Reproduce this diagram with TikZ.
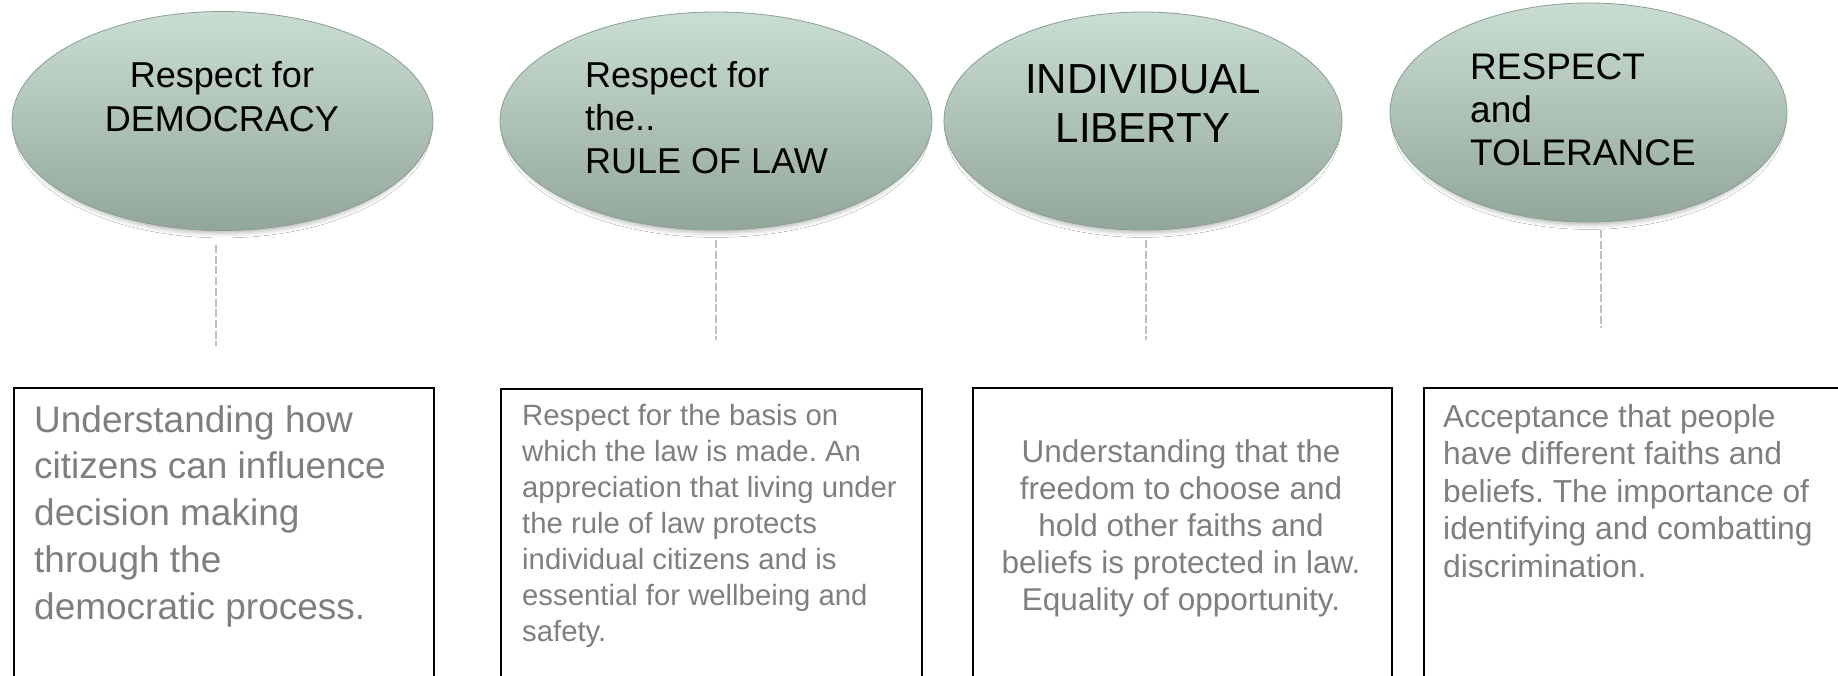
\documentclass[tikz,border=0pt]{standalone}
\usepackage{fontspec}
\setmainfont{Liberation Sans}
\frenchspacing
\usetikzlibrary{shapes.geometric,shadows.blur}
\definecolor{ctop}{HTML}{CADDD3}
\definecolor{cbot}{HTML}{92A799}
\definecolor{cedge}{HTML}{8A9E91}
\definecolor{dashgray}{HTML}{BFBFBF}
\definecolor{txtgray}{HTML}{7F7F7F}
\tikzset{
  bubble/.style={ellipse, draw=cedge, line width=0.8pt, top color=ctop, bottom color=cbot, inner sep=0pt,
    blur shadow={shadow xshift=0pt, shadow yshift=-6pt, shadow scale=0.97, shadow blur radius=5pt, shadow opacity=30}},
  infobox/.style={rectangle, draw=black, line width=2pt, anchor=north west, inner sep=0pt},
  dashline/.style={draw=dashgray, line width=1.4pt, dash pattern=on 8pt off 2.7pt},
  title/.style={inner sep=0pt, text=black},
  body/.style={inner sep=0pt, text=txtgray},
}
\begin{document}
\begin{tikzpicture}[x=1pt,y=-1pt]
\useasboundingbox (0,0) rectangle (1838,676);
\clip (0,0) rectangle (1838,676);
\fill[white] (0,0) rectangle (1838,676);

% ellipses
\node[bubble, minimum width=421pt, minimum height=219pt] (e1) at (222.5,121) {};
\node[bubble, minimum width=432pt, minimum height=218pt] (e2) at (716,121) {};
\node[bubble, minimum width=398pt, minimum height=218pt] (e3) at (1143,121) {};
\node[bubble, minimum width=397pt, minimum height=219pt] (e4) at (1588.5,112.5) {};

% ellipse titles (base anchor = baseline of last line)
\node[title, anchor=base, align=center, font=\fontsize{36}{44}\selectfont] (t1) at (222,132) {Respect for\\DEMOCRACY};
\node[title, anchor=base west, align=left, font=\fontsize{36}{43}\selectfont] (t2) at (585,174) {Respect for\\the..\\RULE OF LAW};
\node[title, anchor=base, align=center, font=\fontsize{42}{49}\selectfont] (t3) at (1143,143) {INDIVIDUAL\\LIBERTY};
\node[title, anchor=base west, align=left, font=\fontsize{37}{43}\selectfont] (t4) at (1470,166) {RESPECT\\and\\TOLERANCE};

% dashed connectors
\coordinate (d1a) at (216,245); \coordinate (d1b) at (216,346);
\coordinate (d2a) at (716,240); \coordinate (d2b) at (716,340);
\coordinate (d3a) at (1146,240); \coordinate (d3b) at (1146,340);
\coordinate (d4a) at (1601,230); \coordinate (d4b) at (1601,328);
\draw[dashline] (d1a) -- (d1b);
\draw[dashline] (d2a) -- (d2b);
\draw[dashline] (d3a) -- (d3b);
\draw[dashline] (d4a) -- (d4b);

% boxes
\node[infobox, minimum width=420pt, minimum height=330pt] (b1) at (13,387) {};
\node[infobox, minimum width=421pt, minimum height=330pt] (b2) at (500,388) {};
\node[infobox, minimum width=419pt, minimum height=330pt] (b3) at (972,387) {};
\node[infobox, minimum width=440pt, minimum height=330pt] (b4) at (1423,387) {};

% box texts (base anchor = baseline of last line)
\node[body, anchor=base west, align=left, font=\fontsize{37}{46.7}\selectfont] (x1) at (34,619)
  {Understanding how\\citizens can influence\\decision making\\through the\\democratic process.};
\node[body, anchor=base west, align=left, font=\fontsize{29.3}{36}\selectfont] (x2) at (522,641)
  {Respect for the basis on\\which the law is made. An\\appreciation that living under\\the rule of law protects\\individual citizens and is\\essential for wellbeing and\\safety.};
\node[body, anchor=base, align=center, font=\fontsize{31.5}{37}\selectfont] (x3) at (1181,610)
  {Understanding that the\\freedom to choose and\\hold other faiths and\\beliefs is protected in law.\\Equality of opportunity.};
\node[body, anchor=base west, align=left, font=\fontsize{31.8}{37.5}\selectfont] (x4) at (1443,577)
  {Acceptance that people\\have different faiths and\\beliefs. The importance of\\identifying and combatting\\discrimination.};
\end{tikzpicture}
\end{document}
